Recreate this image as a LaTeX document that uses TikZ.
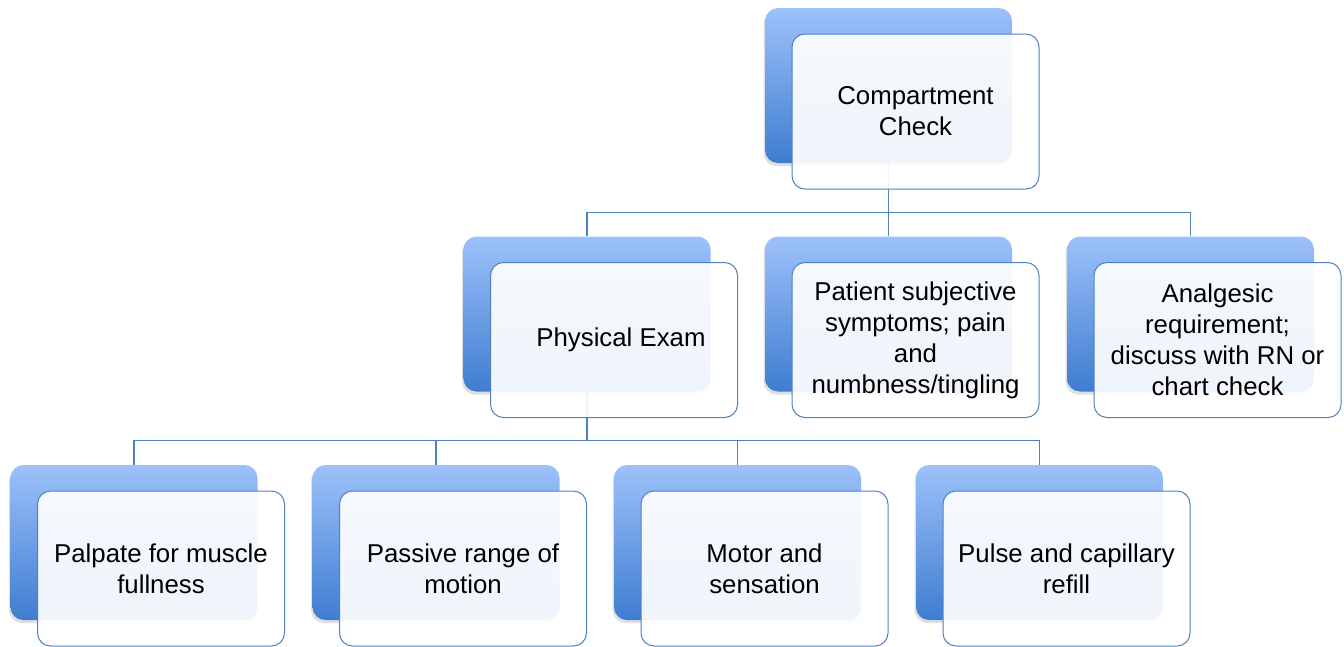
\documentclass[tikz,border=0pt]{standalone}
\usepackage{fontspec}
\setmainfont{Liberation Sans}
\usetikzlibrary{shadows,calc}
\definecolor{linec}{RGB}{79,129,189}
\definecolor{backtop}{RGB}{157,193,250}
\definecolor{backbot}{RGB}{62,125,208}
\tikzset{
  backbox/.style={rectangle, rounded corners=13pt, minimum width=247pt, minimum height=155pt, inner sep=0pt,
    top color=backtop, bottom color=backbot, draw=none,
    drop shadow={shadow xshift=-1.5pt, shadow yshift=-3pt, opacity=0.25}},
  frontbox/.style={rectangle, rounded corners=13pt, minimum width=247pt, minimum height=155pt, inner sep=3pt,
    draw=linec, line width=1pt, fill=white, fill opacity=0.92, draw opacity=1, text opacity=1, align=center,
    font=\fontsize{25.8}{31}\selectfont},
  conn/.style={draw=linec, line width=1.2pt}
}
\begin{document}
\begin{tikzpicture}[x=1pt,y=-1pt]
\useasboundingbox (0,0) rectangle (1344,646);
% back boxes
\node[backbox] (b0) at (888.5,85.5) {};
\node[backbox] (b1) at (587,314) {};
\node[backbox] (b2) at (888.5,314) {};
\node[backbox] (b3) at (1190.5,314) {};
\node[backbox] (b4) at (134,542.5) {};
\node[backbox] (b5) at (436,542.5) {};
\node[backbox] (b6) at (737.5,542.5) {};
\node[backbox] (b7) at (1039.5,542.5) {};
% connectors
\coordinate (bus1) at ($(b0.south)+(0,49)$);
\draw[conn] (b0.south) -- (bus1);
\draw[conn] (bus1) -| (b1.north);
\draw[conn] (bus1) -- (b2.north);
\draw[conn] (bus1) -| (b3.north);
\coordinate (bus2) at ($(b1.south)+(0,49)$);
\draw[conn] (b1.south) -- (bus2);
\draw[conn] (bus2) -| (b4.north);
\draw[conn] (bus2) -| (b5.north);
\draw[conn] (bus2) -| (b6.north);
\draw[conn] (bus2) -| (b7.north);
% front boxes
\node[frontbox] (f0) at ($(b0)+(27,26)$) {Compartment\\Check};
\node[frontbox] (f1) at ($(b1)+(27,26)$) {\hspace*{14pt}Physical Exam};
\node[frontbox] (f2) at ($(b2)+(27,26)$) {Patient subjective\\symptoms; pain\\and\\numbness/tingling};
\node[frontbox] (f3) at ($(b3)+(27,26)$) {Analgesic\\requirement;\\discuss with RN or\\chart check};
\node[frontbox] (f4) at ($(b4)+(27,26)$) {Palpate for muscle\\fullness};
\node[frontbox] (f5) at ($(b5)+(27,26)$) {Passive range of\\motion};
\node[frontbox] (f6) at ($(b6)+(27,26)$) {Motor and\\sensation};
\node[frontbox] (f7) at ($(b7)+(27,26)$) {Pulse and capillary\\refill};
\end{tikzpicture}
\end{document}
